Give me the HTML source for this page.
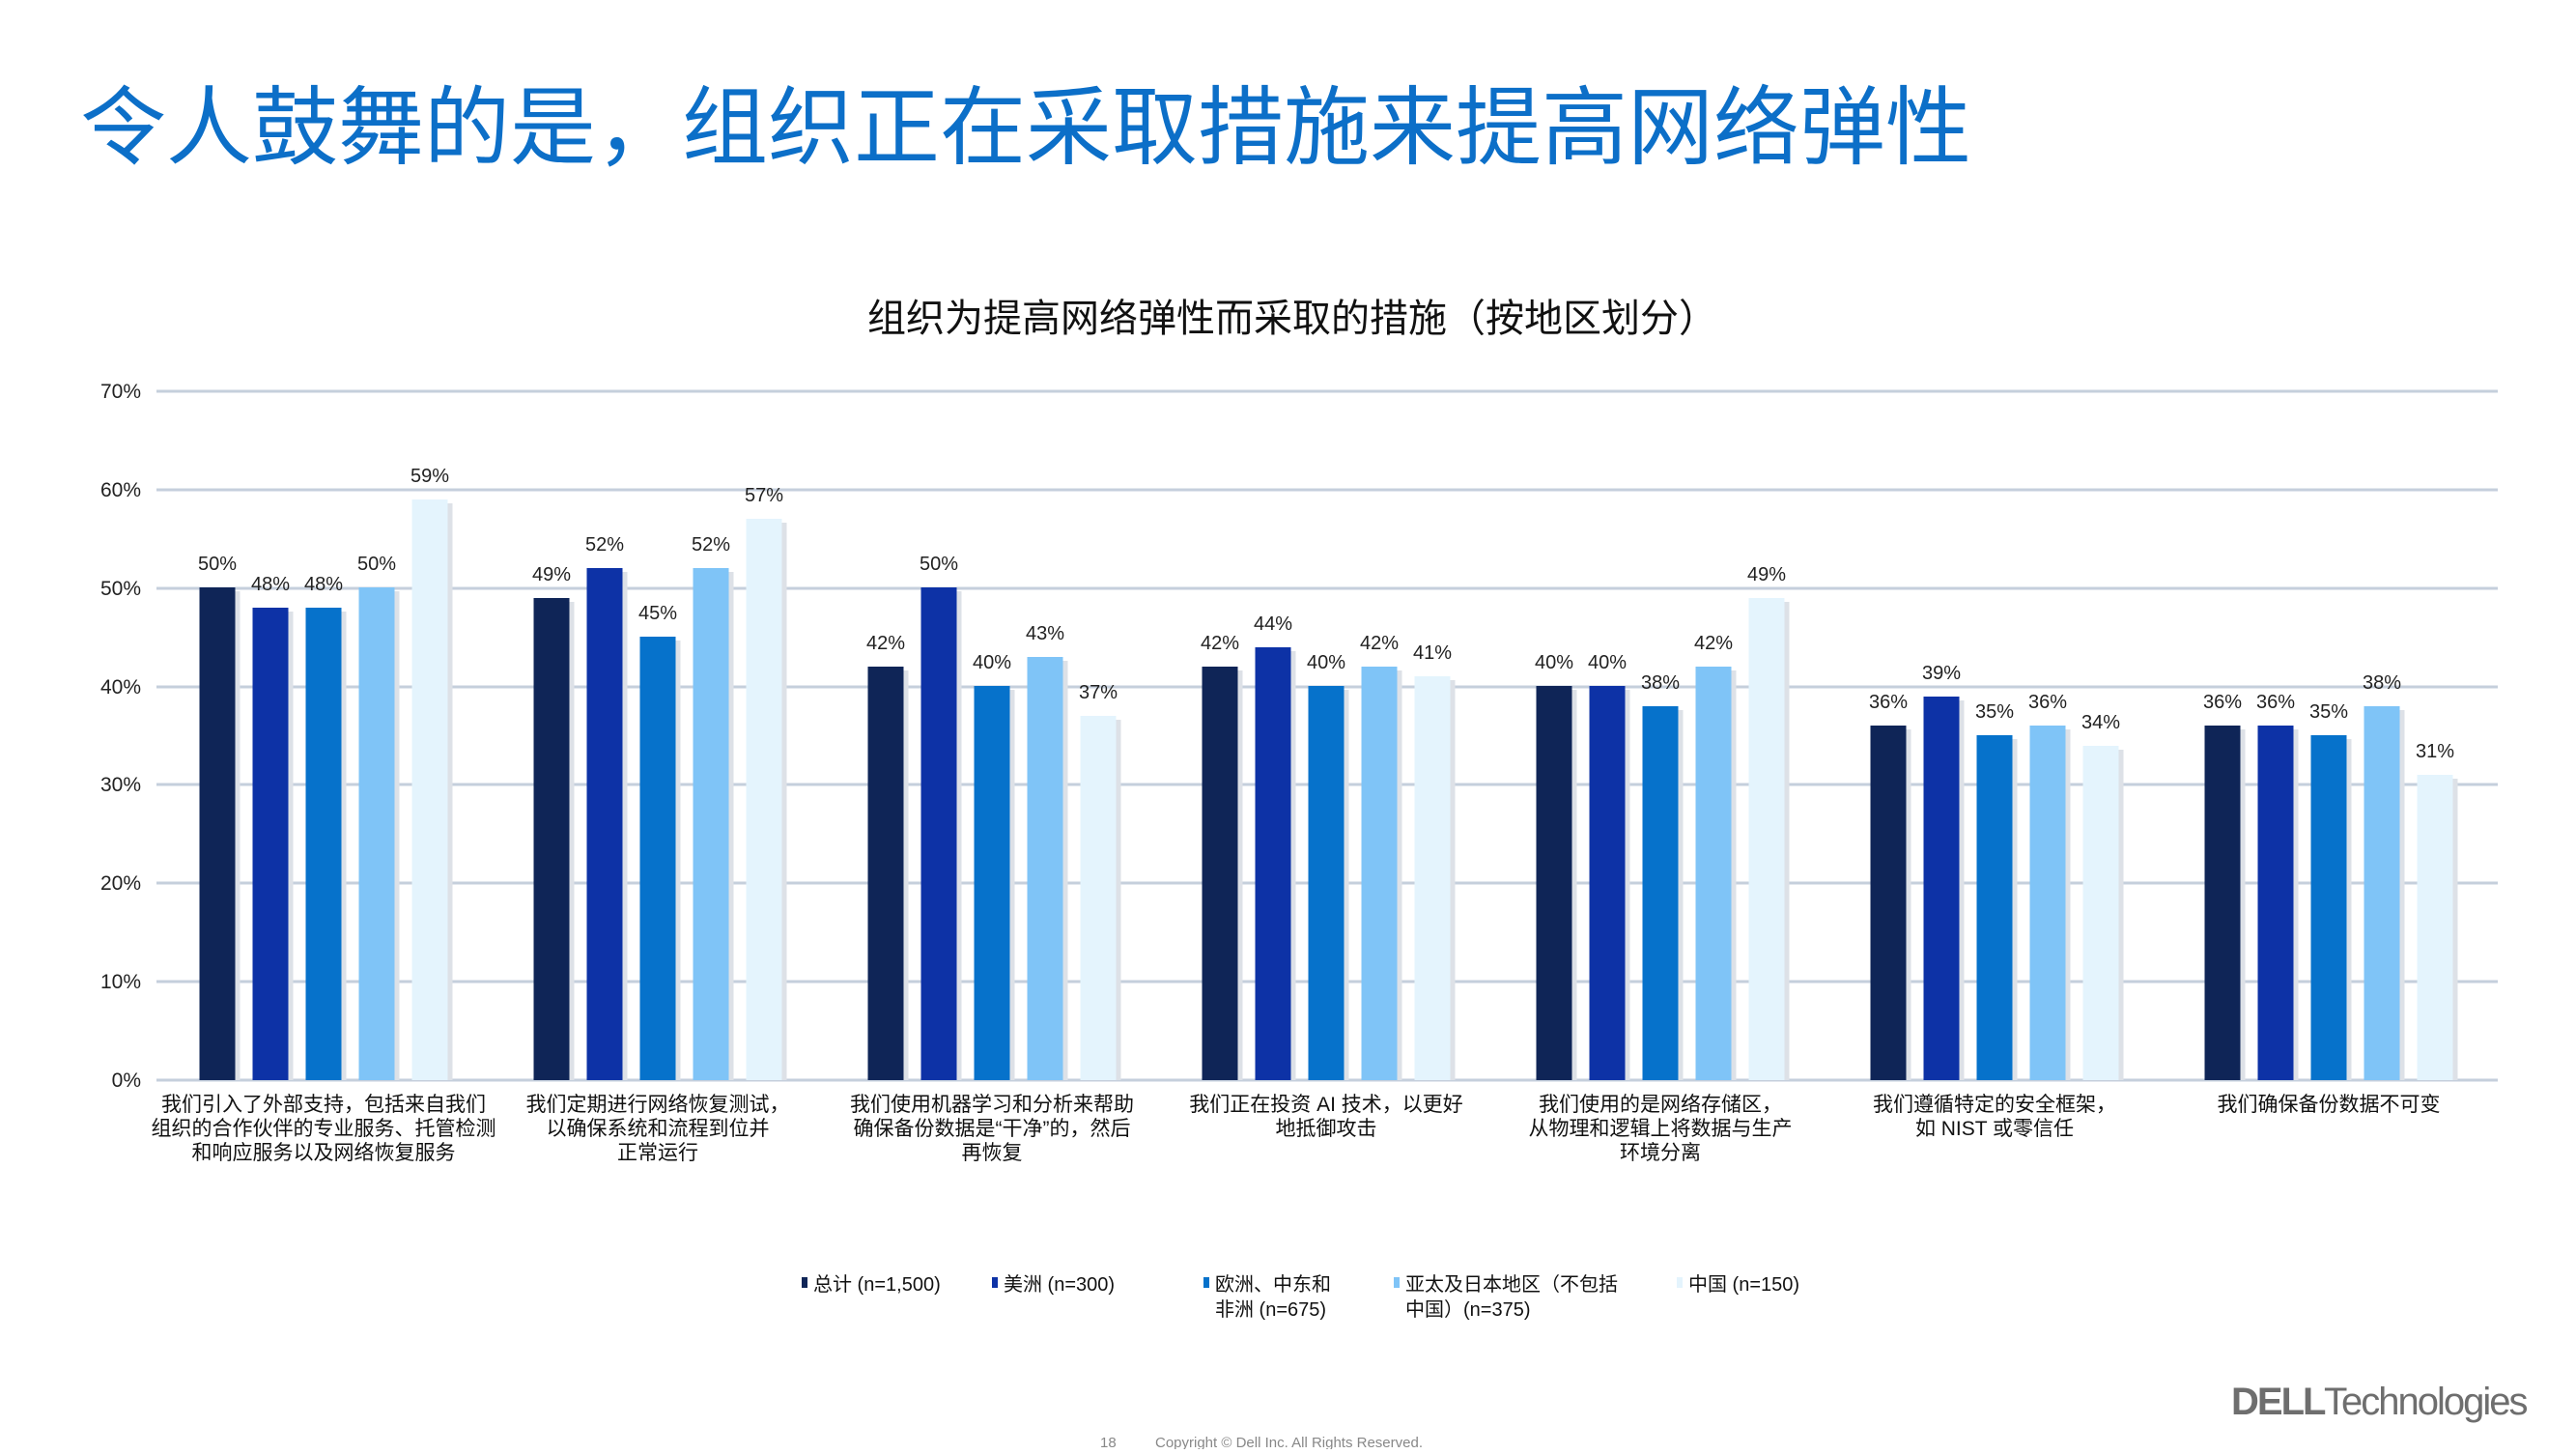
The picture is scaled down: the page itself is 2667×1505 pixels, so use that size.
<!DOCTYPE html>
<html><head><meta charset="utf-8"><style>
html,body{margin:0;padding:0;background:#fff;}
body{width:2667px;height:1500px;overflow:hidden;font-family:"Liberation Sans","Noto Sans CJK SC",sans-serif;}
</style></head><body>
<svg width="2667" height="1500" xmlns="http://www.w3.org/2000/svg" font-family="Liberation Sans, Noto Sans CJK SC, sans-serif">
<text x="83" y="163" font-size="89" fill="#0c6fc8">令人鼓舞的是，组织正在采取措施来提高网络弹性</text>
<text x="1338" y="343" font-size="40" fill="#111" text-anchor="middle">组织为提高网络弹性而采取的措施（按地区划分）</text>
<g stroke="#c5cfdc" stroke-width="3">
<line x1="162" x2="2586" y1="405" y2="405"/><line x1="162" x2="2586" y1="507" y2="507"/><line x1="162" x2="2586" y1="609" y2="609"/><line x1="162" x2="2586" y1="711" y2="711"/><line x1="162" x2="2586" y1="812" y2="812"/><line x1="162" x2="2586" y1="914" y2="914"/><line x1="162" x2="2586" y1="1016" y2="1016"/><line x1="162" x2="2586" y1="1118" y2="1118"/>
</g>
<g font-size="21" fill="#222" text-anchor="end">
<text x="146" y="412">70%</text><text x="146" y="514">60%</text><text x="146" y="616">50%</text><text x="146" y="718">40%</text><text x="146" y="819">30%</text><text x="146" y="921">20%</text><text x="146" y="1023">10%</text><text x="146" y="1125">0%</text>
</g>
<g font-size="20" fill="#222" text-anchor="middle">
<g transform="translate(335,0)">
<rect x="-128.5" y="608" width="37" height="510" fill="#0f2557"/><rect x="-91.5" y="612" width="5" height="506" fill="#dde1e7"/><text x="-110" y="590">50%</text>
<rect x="-73.5" y="629" width="37" height="489" fill="#0d32a6"/><rect x="-36.5" y="633" width="5" height="485" fill="#dde1e7"/><text x="-55" y="611">48%</text>
<rect x="-18.5" y="629" width="37" height="489" fill="#0672cb"/><rect x="18.5" y="633" width="5" height="485" fill="#dde1e7"/><text x="0" y="611">48%</text>
<rect x="36.5" y="608" width="37" height="510" fill="#7fc4f7"/><rect x="73.5" y="612" width="5" height="506" fill="#dde1e7"/><text x="55" y="590">50%</text>
<rect x="91.5" y="517" width="37" height="601" fill="#e4f4fd"/><rect x="128.5" y="521" width="5" height="597" fill="#dde1e7"/><text x="110" y="499">59%</text>
</g>
<g transform="translate(681,0)">
<rect x="-128.5" y="619" width="37" height="499" fill="#0f2557"/><rect x="-91.5" y="623" width="5" height="495" fill="#dde1e7"/><text x="-110" y="601">49%</text>
<rect x="-73.5" y="588" width="37" height="530" fill="#0d32a6"/><rect x="-36.5" y="592" width="5" height="526" fill="#dde1e7"/><text x="-55" y="570">52%</text>
<rect x="-18.5" y="659" width="37" height="459" fill="#0672cb"/><rect x="18.5" y="663" width="5" height="455" fill="#dde1e7"/><text x="0" y="641">45%</text>
<rect x="36.5" y="588" width="37" height="530" fill="#7fc4f7"/><rect x="73.5" y="592" width="5" height="526" fill="#dde1e7"/><text x="55" y="570">52%</text>
<rect x="91.5" y="537" width="37" height="581" fill="#e4f4fd"/><rect x="128.5" y="541" width="5" height="577" fill="#dde1e7"/><text x="110" y="519">57%</text>
</g>
<g transform="translate(1027,0)">
<rect x="-128.5" y="690" width="37" height="428" fill="#0f2557"/><rect x="-91.5" y="694" width="5" height="424" fill="#dde1e7"/><text x="-110" y="672">42%</text>
<rect x="-73.5" y="608" width="37" height="510" fill="#0d32a6"/><rect x="-36.5" y="612" width="5" height="506" fill="#dde1e7"/><text x="-55" y="590">50%</text>
<rect x="-18.5" y="710" width="37" height="408" fill="#0672cb"/><rect x="18.5" y="714" width="5" height="404" fill="#dde1e7"/><text x="0" y="692">40%</text>
<rect x="36.5" y="680" width="37" height="438" fill="#7fc4f7"/><rect x="73.5" y="684" width="5" height="434" fill="#dde1e7"/><text x="55" y="662">43%</text>
<rect x="91.5" y="741" width="37" height="377" fill="#e4f4fd"/><rect x="128.5" y="745" width="5" height="373" fill="#dde1e7"/><text x="110" y="723">37%</text>
</g>
<g transform="translate(1373,0)">
<rect x="-128.5" y="690" width="37" height="428" fill="#0f2557"/><rect x="-91.5" y="694" width="5" height="424" fill="#dde1e7"/><text x="-110" y="672">42%</text>
<rect x="-73.5" y="670" width="37" height="448" fill="#0d32a6"/><rect x="-36.5" y="674" width="5" height="444" fill="#dde1e7"/><text x="-55" y="652">44%</text>
<rect x="-18.5" y="710" width="37" height="408" fill="#0672cb"/><rect x="18.5" y="714" width="5" height="404" fill="#dde1e7"/><text x="0" y="692">40%</text>
<rect x="36.5" y="690" width="37" height="428" fill="#7fc4f7"/><rect x="73.5" y="694" width="5" height="424" fill="#dde1e7"/><text x="55" y="672">42%</text>
<rect x="91.5" y="700" width="37" height="418" fill="#e4f4fd"/><rect x="128.5" y="704" width="5" height="414" fill="#dde1e7"/><text x="110" y="682">41%</text>
</g>
<g transform="translate(1719,0)">
<rect x="-128.5" y="710" width="37" height="408" fill="#0f2557"/><rect x="-91.5" y="714" width="5" height="404" fill="#dde1e7"/><text x="-110" y="692">40%</text>
<rect x="-73.5" y="710" width="37" height="408" fill="#0d32a6"/><rect x="-36.5" y="714" width="5" height="404" fill="#dde1e7"/><text x="-55" y="692">40%</text>
<rect x="-18.5" y="731" width="37" height="387" fill="#0672cb"/><rect x="18.5" y="735" width="5" height="383" fill="#dde1e7"/><text x="0" y="713">38%</text>
<rect x="36.5" y="690" width="37" height="428" fill="#7fc4f7"/><rect x="73.5" y="694" width="5" height="424" fill="#dde1e7"/><text x="55" y="672">42%</text>
<rect x="91.5" y="619" width="37" height="499" fill="#e4f4fd"/><rect x="128.5" y="623" width="5" height="495" fill="#dde1e7"/><text x="110" y="601">49%</text>
</g>
<g transform="translate(2065,0)">
<rect x="-128.5" y="751" width="37" height="367" fill="#0f2557"/><rect x="-91.5" y="755" width="5" height="363" fill="#dde1e7"/><text x="-110" y="733">36%</text>
<rect x="-73.5" y="721" width="37" height="397" fill="#0d32a6"/><rect x="-36.5" y="725" width="5" height="393" fill="#dde1e7"/><text x="-55" y="703">39%</text>
<rect x="-18.5" y="761" width="37" height="357" fill="#0672cb"/><rect x="18.5" y="765" width="5" height="353" fill="#dde1e7"/><text x="0" y="743">35%</text>
<rect x="36.5" y="751" width="37" height="367" fill="#7fc4f7"/><rect x="73.5" y="755" width="5" height="363" fill="#dde1e7"/><text x="55" y="733">36%</text>
<rect x="91.5" y="772" width="37" height="346" fill="#e4f4fd"/><rect x="128.5" y="776" width="5" height="342" fill="#dde1e7"/><text x="110" y="754">34%</text>
</g>
<g transform="translate(2411,0)">
<rect x="-128.5" y="751" width="37" height="367" fill="#0f2557"/><rect x="-91.5" y="755" width="5" height="363" fill="#dde1e7"/><text x="-110" y="733">36%</text>
<rect x="-73.5" y="751" width="37" height="367" fill="#0d32a6"/><rect x="-36.5" y="755" width="5" height="363" fill="#dde1e7"/><text x="-55" y="733">36%</text>
<rect x="-18.5" y="761" width="37" height="357" fill="#0672cb"/><rect x="18.5" y="765" width="5" height="353" fill="#dde1e7"/><text x="0" y="743">35%</text>
<rect x="36.5" y="731" width="37" height="387" fill="#7fc4f7"/><rect x="73.5" y="735" width="5" height="383" fill="#dde1e7"/><text x="55" y="713">38%</text>
<rect x="91.5" y="802" width="37" height="316" fill="#e4f4fd"/><rect x="128.5" y="806" width="5" height="312" fill="#dde1e7"/><text x="110" y="784">31%</text>
</g>
</g>
<g font-size="21" fill="#111" text-anchor="middle">
<text x="335" y="1150">我们引入了外部支持，包括来自我们</text><text x="335" y="1175">组织的合作伙伴的专业服务、托管检测</text><text x="335" y="1200">和响应服务以及网络恢复服务</text>
<text x="681" y="1150">我们定期进行网络恢复测试，</text><text x="681" y="1175">以确保系统和流程到位并</text><text x="681" y="1200">正常运行</text>
<text x="1027" y="1150">我们使用机器学习和分析来帮助</text><text x="1027" y="1175">确保备份数据是“干净”的，然后</text><text x="1027" y="1200">再恢复</text>
<text x="1373" y="1150">我们正在投资 AI 技术，以更好</text><text x="1373" y="1175">地抵御攻击</text>
<text x="1719" y="1150">我们使用的是网络存储区，</text><text x="1719" y="1175">从物理和逻辑上将数据与生产</text><text x="1719" y="1200">环境分离</text>
<text x="2065" y="1150">我们遵循特定的安全框架，</text><text x="2065" y="1175">如 NIST 或零信任</text>
<text x="2411" y="1150">我们确保备份数据不可变</text>
</g>
<g font-size="20" fill="#111">
<rect x="830" y="1322" width="6" height="11" fill="#0f2557"/><text x="842" y="1336">总计 (n=1,500)</text>
<rect x="1027" y="1322" width="6" height="11" fill="#0d32a6"/><text x="1039" y="1336">美洲 (n=300)</text>
<rect x="1246" y="1322" width="6" height="11" fill="#0672cb"/><text x="1258" y="1336">欧洲、中东和</text><text x="1258" y="1362">非洲 (n=675)</text>
<rect x="1443" y="1322" width="6" height="11" fill="#7fc4f7"/><text x="1455" y="1336">亚太及日本地区（不包括</text><text x="1455" y="1362">中国）(n=375)</text>
<rect x="1736" y="1322" width="6" height="11" fill="#e4f4fd"/><text x="1748" y="1336">中国 (n=150)</text>
</g>
<text x="1139" y="1498" font-size="15" fill="#888">18</text>
<text x="1196" y="1498" font-size="15" fill="#888">Copyright © Dell Inc. All Rights Reserved.</text>
<text x="2310" y="1464" font-size="40" fill="#6e6e6e" font-weight="bold" letter-spacing="-2">DELL</text>
<text x="2406" y="1464" font-size="40" fill="#6e6e6e" letter-spacing="-2">Technologies</text>
</svg>
</body></html>
